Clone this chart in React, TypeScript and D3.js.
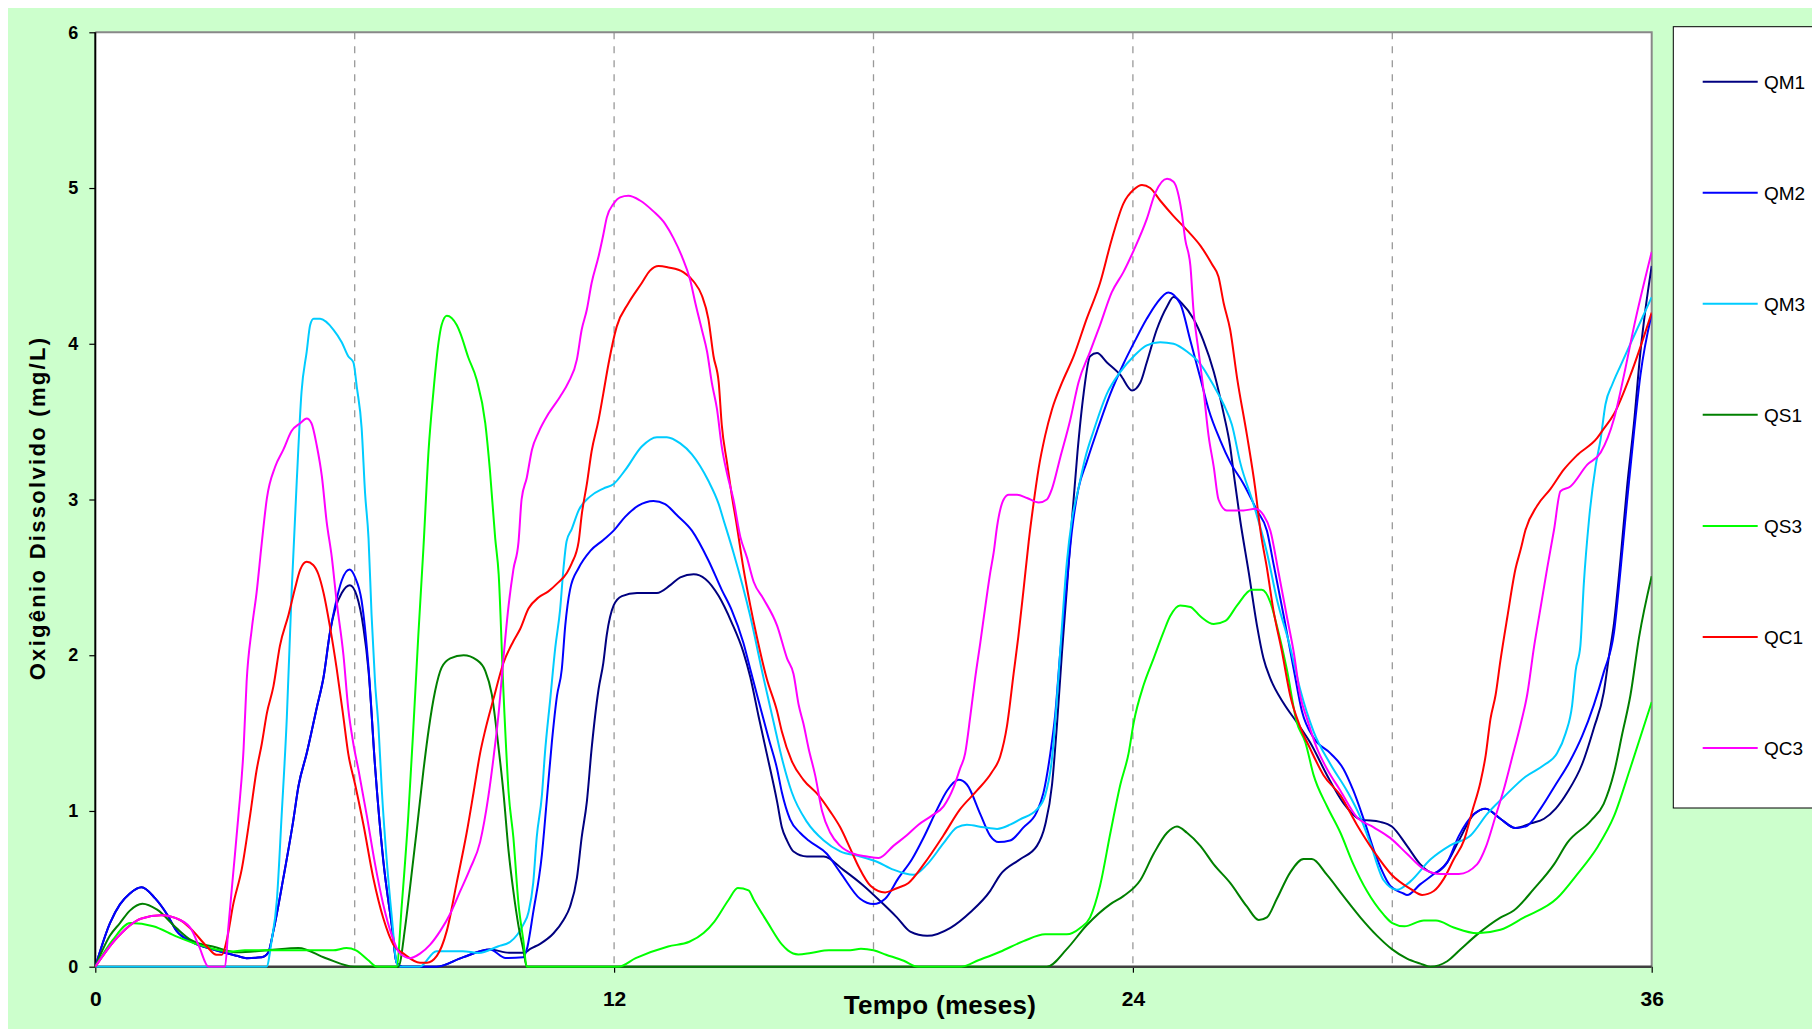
import React, { useEffect, useRef } from 'react';
import { select, scaleLinear, axisLeft, axisBottom, line, curveMonotoneX } from 'd3';

const width = 1812;
const height = 1021;
const plot = { left: 87.3, top: 24.3, right: 1643.7, bottom: 958.7 };

// [mês, OD mg/L]
const QM1: [number, number][] = [[0,0],[0.34,0.28],[0.57,0.4],[0.8,0.47],[1.07,0.51],[1.38,0.44],[1.65,0.34],[1.88,0.23],[2.27,0.155],[2.73,0.11],[3.27,0.07],[3.5,0.055],[3.85,0.06],[4.0,0.09],[4.12,0.23],[4.35,0.57],[4.58,0.94],[4.7,1.16],[4.89,1.37],[5.12,1.66],[5.28,1.86],[5.43,2.15],[5.55,2.3],[5.7,2.4],[5.89,2.45],[6.05,2.38],[6.2,2.18],[6.32,1.9],[6.47,1.29],[6.66,0.685],[6.86,0.26],[6.97,0.026],[7.1,0],[7.89,0],[8.5,0.06],[9.13,0.11],[9.57,0.09],[9.93,0.09],[10.06,0.114],[10.29,0.147],[10.6,0.215],[10.83,0.3],[10.98,0.385],[11.14,0.57],[11.25,0.83],[11.37,1.06],[11.48,1.4],[11.64,1.78],[11.75,1.95],[11.83,2.13],[11.99,2.32],[12.18,2.38],[12.53,2.4],[12.99,2.4],[13.3,2.45],[13.53,2.5],[13.84,2.52],[14.11,2.49],[14.42,2.38],[14.72,2.21],[14.99,2.02],[15.15,1.86],[15.34,1.61],[15.53,1.37],[15.77,1.06],[15.88,0.895],[16.0,0.81],[16.15,0.74],[16.46,0.708],[16.85,0.708],[17.31,0.62],[17.77,0.52],[18.16,0.42],[18.54,0.317],[18.85,0.225],[19.24,0.198],[19.78,0.25],[20.24,0.35],[20.7,0.487],[20.93,0.59],[21.39,0.69],[21.78,0.776],[21.97,0.91],[22.13,1.17],[22.24,1.54],[22.36,2.02],[22.47,2.42],[22.59,2.87],[22.72,3.31],[22.86,3.68],[23.01,3.92],[23.17,3.94],[23.4,3.88],[23.71,3.8],[23.98,3.7],[24.17,3.75],[24.32,3.88],[24.55,4.09],[24.79,4.24],[24.94,4.3],[25.13,4.26],[25.4,4.16],[25.63,4.02],[25.87,3.82],[26.1,3.55],[26.25,3.34],[26.33,3.17],[26.48,2.87],[26.68,2.53],[26.87,2.19],[27.02,1.98],[27.18,1.85],[27.49,1.69],[27.79,1.57],[28.1,1.44],[28.49,1.23],[28.87,1.05],[29.26,0.946],[29.72,0.93],[29.99,0.9],[30.34,0.776],[30.65,0.657],[30.96,0.6],[31.27,0.67],[31.54,0.81],[31.89,0.98],[32.16,1.015],[32.5,0.95],[32.85,0.89],[33.2,0.92],[33.51,0.95],[33.78,1.015],[34.05,1.12],[34.39,1.3],[34.66,1.53],[34.89,1.76],[35.01,1.99],[35.13,2.21],[35.28,2.62],[35.43,3.08],[35.59,3.49],[35.74,3.95],[35.86,4.23],[36.0,4.5]];

const QM2: [number, number][] = [[0,0],[0.34,0.28],[0.57,0.4],[0.8,0.47],[1.07,0.51],[1.38,0.44],[1.65,0.34],[1.88,0.23],[2.27,0.155],[2.73,0.11],[3.27,0.07],[3.5,0.055],[3.85,0.06],[4.0,0.09],[4.12,0.23],[4.35,0.57],[4.58,0.94],[4.7,1.16],[4.89,1.37],[5.12,1.66],[5.28,1.86],[5.43,2.15],[5.55,2.32],[5.7,2.48],[5.88,2.55],[6.01,2.5],[6.16,2.35],[6.32,1.92],[6.47,1.29],[6.66,0.685],[6.86,0.26],[6.97,0.026],[7.1,0],[7.89,0],[8.5,0.06],[9.13,0.11],[9.49,0.056],[9.9,0.06],[9.98,0.11],[10.13,0.35],[10.33,0.72],[10.44,1.06],[10.56,1.44],[10.68,1.74],[10.79,1.91],[10.87,2.19],[10.98,2.42],[11.18,2.56],[11.45,2.67],[11.75,2.74],[11.99,2.8],[12.26,2.89],[12.56,2.96],[12.91,2.99],[13.18,2.97],[13.45,2.9],[13.8,2.8],[14.18,2.61],[14.49,2.42],[14.72,2.29],[14.99,2.08],[15.15,1.91],[15.34,1.71],[15.57,1.47],[15.77,1.27],[15.88,1.12],[16.07,0.946],[16.3,0.86],[16.5,0.81],[16.92,0.725],[17.23,0.606],[17.69,0.436],[18.0,0.402],[18.27,0.436],[18.58,0.57],[18.89,0.69],[19.16,0.83],[19.47,1.01],[19.7,1.13],[19.97,1.2],[20.16,1.17],[20.47,0.98],[20.7,0.84],[20.89,0.8],[21.16,0.81],[21.47,0.895],[21.78,0.996],[21.93,1.115],[22.09,1.37],[22.2,1.61],[22.32,2.02],[22.47,2.46],[22.59,2.8],[22.74,3.07],[22.93,3.24],[23.17,3.44],[23.48,3.68],[23.78,3.87],[24.05,4.02],[24.32,4.16],[24.55,4.26],[24.82,4.33],[25.09,4.26],[25.33,4.02],[25.56,3.78],[25.75,3.58],[26.02,3.38],[26.25,3.24],[26.56,3.1],[26.87,2.93],[27.1,2.8],[27.25,2.59],[27.49,2.25],[27.72,1.91],[27.91,1.64],[28.18,1.47],[28.57,1.37],[28.87,1.27],[29.1,1.13],[29.34,0.946],[29.65,0.69],[29.95,0.52],[30.26,0.47],[30.34,0.46],[30.65,0.53],[30.96,0.595],[31.27,0.67],[31.54,0.84],[31.89,0.98],[32.16,1.015],[32.5,0.95],[32.85,0.89],[33.12,0.905],[33.43,1.015],[33.78,1.17],[34.09,1.31],[34.39,1.48],[34.66,1.68],[34.89,1.89],[35.13,2.15],[35.28,2.55],[35.43,2.99],[35.59,3.43],[35.74,3.8],[36.0,4.19]];

const QM3: [number, number][] = [[0,0],[3.96,0],[4.08,0.17],[4.2,0.43],[4.31,0.97],[4.43,1.6],[4.54,2.4],[4.66,3.12],[4.77,3.69],[4.89,3.95],[4.97,4.12],[5.05,4.16],[5.2,4.16],[5.51,4.09],[5.7,4.01],[5.85,3.92],[5.97,3.88],[6.05,3.72],[6.16,3.46],[6.24,3.04],[6.32,2.75],[6.39,2.26],[6.47,1.83],[6.55,1.54],[6.63,1.12],[6.74,0.686],[6.86,0.313],[6.97,0.026],[7.05,0],[7.5,0],[7.89,0.1],[8.5,0.1],[8.87,0.088],[9.31,0.13],[9.6,0.16],[9.9,0.27],[10.02,0.35],[10.13,0.54],[10.21,0.83],[10.33,1.1],[10.4,1.37],[10.52,1.71],[10.64,2.05],[10.75,2.29],[10.83,2.56],[10.9,2.73],[11.02,2.81],[11.18,2.93],[11.45,3.02],[11.75,3.07],[11.99,3.1],[12.26,3.19],[12.64,3.34],[12.99,3.4],[13.22,3.4],[13.53,3.36],[13.8,3.29],[14.18,3.12],[14.42,2.97],[14.53,2.87],[14.76,2.66],[15.15,2.25],[15.46,1.85],[15.69,1.57],[15.88,1.34],[16.11,1.12],[16.46,0.93],[16.85,0.81],[17.23,0.74],[17.69,0.708],[18.08,0.674],[18.46,0.623],[18.93,0.59],[19.24,0.657],[19.62,0.793],[19.93,0.895],[20.16,0.912],[20.55,0.895],[20.86,0.885],[21.16,0.912],[21.39,0.946],[21.78,1.01],[21.97,1.1],[22.13,1.34],[22.24,1.71],[22.36,2.19],[22.47,2.59],[22.59,2.87],[22.74,3.07],[22.9,3.27],[23.09,3.44],[23.4,3.68],[23.71,3.82],[24.02,3.92],[24.32,3.99],[24.63,4.01],[24.94,4.0],[25.25,3.95],[25.56,3.87],[25.87,3.73],[26.1,3.61],[26.29,3.48],[26.48,3.24],[26.79,2.97],[27.1,2.66],[27.33,2.36],[27.64,2.05],[27.87,1.78],[28.18,1.51],[28.57,1.3],[28.95,1.13],[29.26,0.96],[29.49,0.793],[29.8,0.555],[30.11,0.494],[30.42,0.548],[30.88,0.688],[31.35,0.781],[31.81,0.843],[32.2,0.983],[32.58,1.09],[33.08,1.22],[33.51,1.295],[33.81,1.37],[34.01,1.5],[34.16,1.68],[34.24,1.9],[34.35,2.06],[34.43,2.46],[34.55,2.87],[34.7,3.21],[34.82,3.39],[34.93,3.61],[35.09,3.74],[35.28,3.86],[35.59,4.05],[36.0,4.3]];

const QS1: [number, number][] = [[0,0],[0.34,0.2],[0.57,0.28],[0.8,0.36],[1.09,0.404],[1.43,0.366],[1.87,0.25],[2.22,0.17],[2.76,0.126],[3.29,0.092],[4.0,0.105],[4.7,0.12],[5.32,0.056],[5.99,0],[7.01,0],[7.17,0.26],[7.28,0.51],[7.44,0.89],[7.59,1.26],[7.71,1.52],[7.86,1.77],[8.01,1.92],[8.21,1.98],[8.52,2.0],[8.82,1.97],[9.02,1.9],[9.17,1.75],[9.33,1.4],[9.44,1.12],[9.56,0.74],[9.67,0.485],[9.79,0.26],[9.9,0.11],[9.98,0],[22.01,0],[22.47,0.113],[22.93,0.266],[23.48,0.402],[23.78,0.453],[24.17,0.555],[24.48,0.725],[24.79,0.86],[25.02,0.9],[25.25,0.86],[25.56,0.776],[25.87,0.657],[26.25,0.538],[26.64,0.385],[26.91,0.3],[27.1,0.317],[27.33,0.436],[27.64,0.606],[27.95,0.691],[28.14,0.691],[28.49,0.589],[28.87,0.453],[29.26,0.317],[29.65,0.198],[29.99,0.113],[30.34,0.052],[30.65,0.02],[30.88,0],[31.27,0.035],[31.58,0.112],[31.96,0.206],[32.5,0.315],[32.81,0.361],[33.28,0.501],[33.74,0.657],[34.05,0.797],[34.59,0.937],[34.89,1.046],[35.13,1.248],[35.32,1.497],[35.51,1.746],[35.71,2.12],[36.0,2.508]];

const QS3: [number, number][] = [[0,0],[0.4,0.17],[0.81,0.28],[1.34,0.26],[1.87,0.195],[2.4,0.14],[3.11,0.098],[3.46,0.105],[5.5,0.105],[5.81,0.12],[6.03,0.105],[6.3,0.045],[6.52,0],[6.97,0],[7.09,0.4],[7.24,0.97],[7.36,1.55],[7.47,2.12],[7.59,2.69],[7.71,3.32],[7.82,3.69],[7.94,4.01],[8.01,4.12],[8.13,4.18],[8.36,4.12],[8.44,4.07],[8.63,3.91],[8.82,3.77],[9.02,3.49],[9.13,3.18],[9.25,2.75],[9.33,2.52],[9.44,1.77],[9.56,1.12],[9.67,0.83],[9.79,0.4],[9.9,0.17],[9.98,0],[12.1,0],[12.5,0.055],[13.25,0.13],[13.74,0.16],[14.07,0.216],[14.32,0.29],[14.65,0.43],[14.86,0.505],[15.11,0.49],[15.23,0.43],[15.56,0.28],[15.89,0.14],[16.02,0.105],[16.26,0.079],[16.55,0.088],[16.97,0.105],[17.46,0.105],[17.71,0.115],[18.0,0.105],[18.29,0.077],[18.7,0.038],[19.03,0],[20.03,0],[20.44,0.043],[20.93,0.096],[21.47,0.164],[21.97,0.208],[22.47,0.208],[22.78,0.249],[23.01,0.317],[23.24,0.52],[23.48,0.86],[23.71,1.17],[23.9,1.37],[24.02,1.57],[24.25,1.81],[24.48,1.98],[24.71,2.15],[24.86,2.25],[25.09,2.32],[25.33,2.31],[25.56,2.25],[25.87,2.2],[26.14,2.22],[26.41,2.32],[26.75,2.42],[26.98,2.42],[27.18,2.34],[27.33,2.19],[27.56,1.91],[27.79,1.57],[27.99,1.44],[28.18,1.23],[28.49,1.03],[28.8,0.86],[29.1,0.657],[29.41,0.487],[29.8,0.334],[30.0,0.28],[30.28,0.259],[30.73,0.297],[31.01,0.297],[31.42,0.252],[31.96,0.215],[32.5,0.237],[33.04,0.315],[33.81,0.439],[34.28,0.595],[34.74,0.766],[35.13,0.968],[35.51,1.279],[36.0,1.7]];

const QC1: [number, number][] = [[0,0],[0.45,0.17],[1.07,0.31],[1.52,0.33],[1.96,0.3],[2.22,0.24],[2.58,0.13],[2.8,0.077],[2.93,0.077],[3.04,0.17],[3.19,0.4],[3.39,0.63],[3.58,0.97],[3.73,1.26],[3.85,1.43],[3.97,1.63],[4.12,1.8],[4.27,2.06],[4.47,2.26],[4.62,2.43],[4.74,2.55],[4.89,2.6],[5.04,2.58],[5.16,2.52],[5.28,2.4],[5.43,2.18],[5.58,1.92],[5.74,1.6],[5.85,1.37],[6.01,1.17],[6.2,0.915],[6.43,0.57],[6.66,0.313],[6.9,0.14],[7.13,0.084],[7.51,0.026],[7.67,0.026],[7.9,0.07],[8.13,0.23],[8.36,0.54],[8.59,0.86],[8.75,1.12],[8.9,1.37],[9.02,1.52],[9.21,1.72],[9.44,1.95],[9.67,2.09],[9.83,2.17],[10.02,2.3],[10.25,2.37],[10.48,2.41],[10.68,2.46],[10.91,2.53],[11.02,2.59],[11.18,2.73],[11.25,2.9],[11.37,3.1],[11.48,3.31],[11.64,3.51],[11.75,3.68],[11.87,3.87],[12.06,4.11],[12.33,4.26],[12.64,4.39],[12.83,4.47],[13.03,4.5],[13.26,4.49],[13.6,4.46],[13.84,4.4],[14.03,4.31],[14.18,4.16],[14.3,3.92],[14.42,3.75],[14.49,3.48],[14.61,3.24],[14.72,3.03],[14.84,2.83],[14.99,2.56],[15.15,2.32],[15.3,2.12],[15.53,1.85],[15.77,1.64],[15.88,1.51],[16.11,1.32],[16.38,1.2],[16.73,1.1],[17.0,0.996],[17.23,0.895],[17.46,0.76],[17.66,0.64],[17.93,0.52],[18.27,0.477],[18.54,0.504],[18.81,0.538],[19.16,0.657],[19.62,0.844],[20.0,1.01],[20.39,1.13],[20.74,1.25],[20.93,1.35],[21.09,1.55],[21.24,1.88],[21.35,2.12],[21.47,2.42],[21.59,2.73],[21.7,2.97],[21.82,3.2],[21.97,3.41],[22.13,3.58],[22.36,3.75],[22.63,3.92],[22.93,4.16],[23.24,4.39],[23.51,4.67],[23.78,4.9],[24.02,4.99],[24.21,5.02],[24.4,5.0],[24.63,4.92],[24.94,4.82],[25.25,4.73],[25.56,4.63],[25.83,4.51],[25.98,4.43],[26.1,4.26],[26.25,4.09],[26.41,3.78],[26.64,3.41],[26.83,3.07],[26.95,2.8],[27.1,2.56],[27.25,2.29],[27.45,2.02],[27.64,1.74],[27.87,1.54],[28.1,1.4],[28.41,1.23],[28.8,1.1],[29.18,0.912],[29.57,0.742],[29.99,0.589],[30.42,0.5],[30.69,0.461],[30.96,0.486],[31.19,0.564],[31.42,0.688],[31.66,0.813],[31.85,1.0],[32.04,1.186],[32.16,1.357],[32.27,1.59],[32.39,1.746],[32.5,1.964],[32.66,2.244],[32.85,2.555],[32.97,2.68],[33.08,2.804],[33.35,2.96],[33.66,3.068],[33.97,3.193],[34.28,3.286],[34.74,3.395],[34.86,3.442],[35.13,3.55],[35.51,3.8],[36.0,4.2]];

const QC3: [number, number][] = [[0,0],[0.45,0.17],[1.07,0.31],[1.52,0.33],[1.96,0.3],[2.22,0.24],[2.4,0.13],[2.62,0],[3.0,0],[3.08,0.26],[3.19,0.6],[3.31,0.97],[3.43,1.4],[3.5,1.83],[3.62,2.17],[3.73,2.4],[3.85,2.72],[3.97,3.01],[4.16,3.21],[4.35,3.32],[4.54,3.44],[4.74,3.49],[4.89,3.52],[5.0,3.49],[5.12,3.35],[5.24,3.15],[5.35,2.86],[5.47,2.63],[5.58,2.35],[5.74,2.0],[5.85,1.66],[5.97,1.43],[6.09,1.26],[6.28,0.97],[6.47,0.66],[6.66,0.4],[6.86,0.2],[7.05,0.084],[7.28,0.055],[7.51,0.084],[7.74,0.14],[7.98,0.23],[8.21,0.34],[8.44,0.485],[8.67,0.63],[8.9,0.8],[9.09,1.09],[9.21,1.34],[9.33,1.63],[9.44,1.98],[9.56,2.32],[9.67,2.55],[9.79,2.73],[9.86,3.0],[9.98,3.14],[10.1,3.32],[10.25,3.43],[10.48,3.55],[10.75,3.66],[10.94,3.75],[11.14,3.9],[11.25,4.09],[11.37,4.22],[11.48,4.39],[11.64,4.56],[11.75,4.7],[11.83,4.81],[11.99,4.9],[12.14,4.94],[12.33,4.95],[12.6,4.92],[12.91,4.85],[13.18,4.77],[13.37,4.68],[13.57,4.56],[13.76,4.41],[13.88,4.26],[14.03,4.09],[14.15,3.95],[14.26,3.75],[14.38,3.58],[14.49,3.34],[14.61,3.17],[14.76,3.0],[14.92,2.76],[15.07,2.63],[15.23,2.47],[15.46,2.36],[15.77,2.19],[16.0,1.98],[16.15,1.88],[16.27,1.68],[16.38,1.56],[16.5,1.4],[16.65,1.23],[16.81,1.0],[17.0,0.86],[17.23,0.776],[17.54,0.725],[17.85,0.708],[18.12,0.698],[18.46,0.776],[18.77,0.844],[19.04,0.912],[19.35,0.97],[19.62,1.03],[19.85,1.15],[20.0,1.27],[20.12,1.37],[20.24,1.61],[20.35,1.85],[20.47,2.08],[20.59,2.32],[20.7,2.53],[20.78,2.66],[20.86,2.83],[21.01,3.0],[21.13,3.03],[21.32,3.03],[21.55,3.01],[21.82,2.98],[22.01,3.0],[22.13,3.07],[22.32,3.27],[22.55,3.51],[22.74,3.75],[23.01,3.95],[23.24,4.12],[23.51,4.33],[23.78,4.46],[24.02,4.6],[24.32,4.8],[24.52,4.97],[24.79,5.06],[24.94,5.04],[25.13,4.84],[25.21,4.67],[25.33,4.5],[25.4,4.22],[25.52,3.95],[25.63,3.71],[25.75,3.41],[25.87,3.21],[25.98,3.0],[26.17,2.93],[26.56,2.93],[26.83,2.94],[27.02,2.9],[27.18,2.8],[27.37,2.53],[27.56,2.25],[27.72,2.02],[27.87,1.74],[28.03,1.59],[28.26,1.4],[28.49,1.27],[28.8,1.13],[29.18,0.96],[29.57,0.895],[29.95,0.827],[30.34,0.725],[30.73,0.626],[31.12,0.595],[31.54,0.595],[31.96,0.657],[32.16,0.766],[32.39,0.968],[32.58,1.139],[32.77,1.341],[32.97,1.559],[33.12,1.746],[33.28,2.057],[33.43,2.306],[33.58,2.555],[33.74,2.804],[33.89,3.053],[34.12,3.084],[34.51,3.224],[34.82,3.302],[35.13,3.52],[35.36,3.8],[35.59,4.11],[36.0,4.59]];

const seriesNames = ['QM1', 'QM2', 'QM3', 'QS1', 'QS3', 'QC1', 'QC3'];
const seriesData = [QM1, QM2, QM3, QS1, QS3, QC1, QC3];
const seriesColors = ['#000080', '#0000FF', '#00CCFF', '#008000', '#00FF00', '#FF0000', '#FF00FF'];

const yTicks = [0, 1, 2, 3, 4, 5, 6];
const xTicks = [0, 12, 24, 36];
const gridMonths = [6, 12, 18, 24, 30];

const font = '"Liberation Sans", Arial, sans-serif';

const App = () => {
  const svgRef = useRef<SVGSVGElement>(null);

  useEffect(() => {
    document.documentElement.style.overflow = 'hidden';
    const svg = select(svgRef.current);
    svg.selectAll('*').remove();

    const x = scaleLinear().domain([0, 36]).range([plot.left, plot.right]);
    const y = scaleLinear().domain([0, 6]).range([plot.bottom, plot.top]);

    svg.append('rect').attr('width', width).attr('height', height).attr('fill', '#CCFFCC');
    svg.append('rect')
      .attr('x', plot.left).attr('y', plot.top)
      .attr('width', plot.right - plot.left).attr('height', plot.bottom - plot.top)
      .attr('fill', '#fff');

    // grade vertical tracejada
    svg.append('g').selectAll('line')
      .data(gridMonths)
      .join('line')
        .attr('x1', d => x(d)).attr('x2', d => x(d))
        .attr('y1', plot.top).attr('y2', plot.bottom)
        .attr('stroke', '#999').attr('stroke-width', 1.3).attr('stroke-dasharray', '7,7');

    // borda superior e direita
    svg.append('path')
      .attr('d', `M${plot.left},${plot.top}H${plot.right}V${plot.bottom}`)
      .attr('fill', 'none').attr('stroke', '#888').attr('stroke-width', 2);

    // eixo Y
    const gy = svg.append('g')
      .attr('transform', `translate(${plot.left},0)`)
      .call(axisLeft(y).tickValues(yTicks).tickSize(6).tickPadding(11).tickFormat(d => String(d)));
    gy.select('.domain').remove();
    gy.selectAll('.tick line').attr('stroke', '#000').attr('stroke-width', 1.2);
    gy.selectAll('.tick text')
      .attr('font-family', font).attr('font-size', 18).attr('font-weight', 'bold').attr('fill', '#000');
    svg.append('line')
      .attr('x1', plot.left).attr('x2', plot.left).attr('y1', plot.top).attr('y2', plot.bottom)
      .attr('stroke', '#000').attr('stroke-width', 2);

    // eixo X
    const gx = svg.append('g')
      .attr('transform', `translate(0,${plot.bottom})`)
      .call(axisBottom(x).tickValues(xTicks).tickSize(6).tickPadding(18).tickFormat(d => String(d)));
    gx.select('.domain').remove();
    gx.selectAll('.tick line').attr('stroke', '#000').attr('stroke-width', 1.2);
    gx.selectAll('.tick text')
      .attr('font-family', font).attr('font-size', 21).attr('font-weight', 'bold').attr('fill', '#000');
    svg.append('line')
      .attr('x1', plot.left).attr('x2', plot.right).attr('y1', plot.bottom).attr('y2', plot.bottom)
      .attr('stroke', '#404040').attr('stroke-width', 2.5);

    // séries
    svg.append('clipPath').attr('id', 'plotclip')
      .append('rect')
        .attr('x', plot.left).attr('y', plot.top - 2)
        .attr('width', plot.right - plot.left).attr('height', plot.bottom - plot.top + 3);

    const lineGen = line<[number, number]>()
      .x(d => x(d[0]))
      .y(d => y(d[1]))
      .curve(curveMonotoneX);

    svg.append('g').attr('clip-path', 'url(#plotclip)')
      .selectAll('path')
      .data(seriesData)
      .join('path')
        .attr('d', d => lineGen(d))
        .attr('fill', 'none')
        .attr('stroke', (d, i) => seriesColors[i])
        .attr('stroke-width', 2)
        .attr('stroke-linejoin', 'round');

    // títulos
    svg.append('text')
      .attr('x', 932).attr('y', 1006)
      .attr('text-anchor', 'middle')
      .attr('font-family', font).attr('font-size', 26).attr('font-weight', 'bold')
      .attr('letter-spacing', 0.3)
      .text('Tempo (meses)');
    svg.append('text')
      .attr('transform', 'translate(37,500) rotate(-90)')
      .attr('text-anchor', 'middle')
      .attr('font-family', font).attr('font-size', 22).attr('font-weight', 'bold')
      .attr('letter-spacing', 2.3)
      .text('Oxigênio Dissolvido (mg/L)');

    // legenda
    const legendTop = 73.7;
    const legendStep = 111.05;
    svg.append('rect')
      .attr('x', 1665.3).attr('y', 18.7).attr('width', 300).attr('height', 781.3)
      .attr('fill', '#fff').attr('stroke', '#000').attr('stroke-width', 1);
    const lg = svg.append('g').selectAll('g')
      .data(seriesNames)
      .join('g')
        .attr('transform', (d, i) => `translate(0,${legendTop + i * legendStep})`);
    lg.append('line')
      .attr('x1', 1694.7).attr('x2', 1749.7)
      .attr('stroke', (d, i) => seriesColors[i]).attr('stroke-width', 2);
    lg.append('text')
      .attr('x', 1756).attr('dy', '0.36em')
      .attr('font-family', font).attr('font-size', 19)
      .text(d => d);
  }, []);

  return (
    <svg ref={svgRef} width={width} height={height} style={{ display: 'block' }} />
  );
};

export default App;
